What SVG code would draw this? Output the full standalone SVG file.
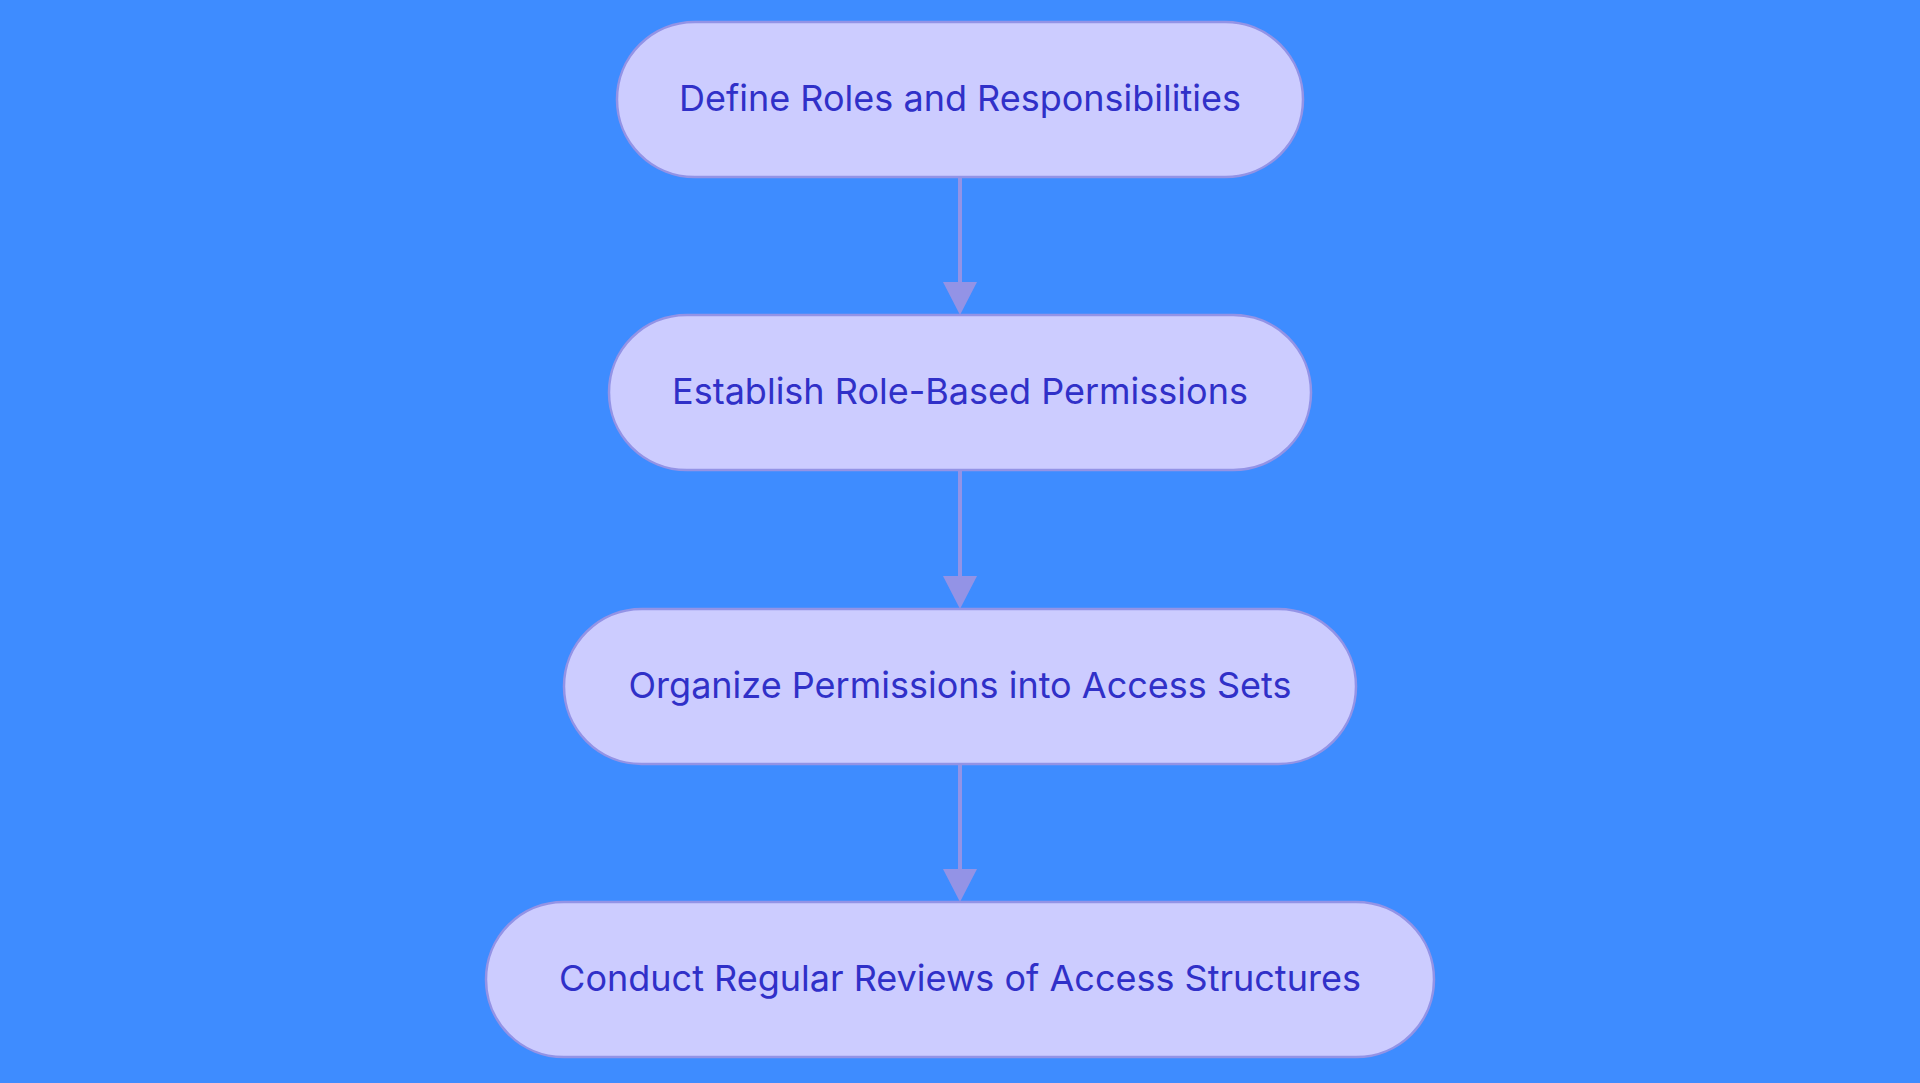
<svg xmlns="http://www.w3.org/2000/svg" width="1920" height="1083" viewBox="0 0 1920 1083">
<style>
.n{fill:#ccccff;stroke:#9393e6;stroke-width:2.5}
.t{font-family:Inter,"Noto Sans",sans-serif;font-size:36px;fill:#3030c8;text-anchor:middle;dominant-baseline:central}
.c{stroke:#9393e6;stroke-width:4;fill:none}
.h{fill:#9393e6}
</style>
<rect width="1920" height="1083" fill="#3e8cff"/>
<g id="connectors">
<line class="c" x1="960" y1="177" x2="960" y2="285"/><polygon class="h" points="943,282 977,282 960,315"/>
<line class="c" x1="960" y1="470" x2="960" y2="579"/><polygon class="h" points="943,576 977,576 960,609"/>
<line class="c" x1="960" y1="764" x2="960" y2="872"/><polygon class="h" points="943,869 977,869 960,902"/>
</g>
<g id="n1"><rect class="n" x="617" y="22" width="686" height="155" rx="77.5"/><text class="t" x="960" y="98">Define Roles and Responsibilities</text></g>
<g id="n2"><rect class="n" x="609" y="315" width="702" height="155" rx="77.5"/><text class="t" x="960" y="391">Establish Role-Based Permissions</text></g>
<g id="n3"><rect class="n" x="564" y="609" width="792" height="155" rx="77.5"/><text class="t" x="960" y="685">Organize Permissions into Access Sets</text></g>
<g id="n4"><rect class="n" x="486" y="902" width="948" height="155" rx="77.5"/><text class="t" x="960" y="978">Conduct Regular Reviews of Access Structures</text></g>
</svg>
